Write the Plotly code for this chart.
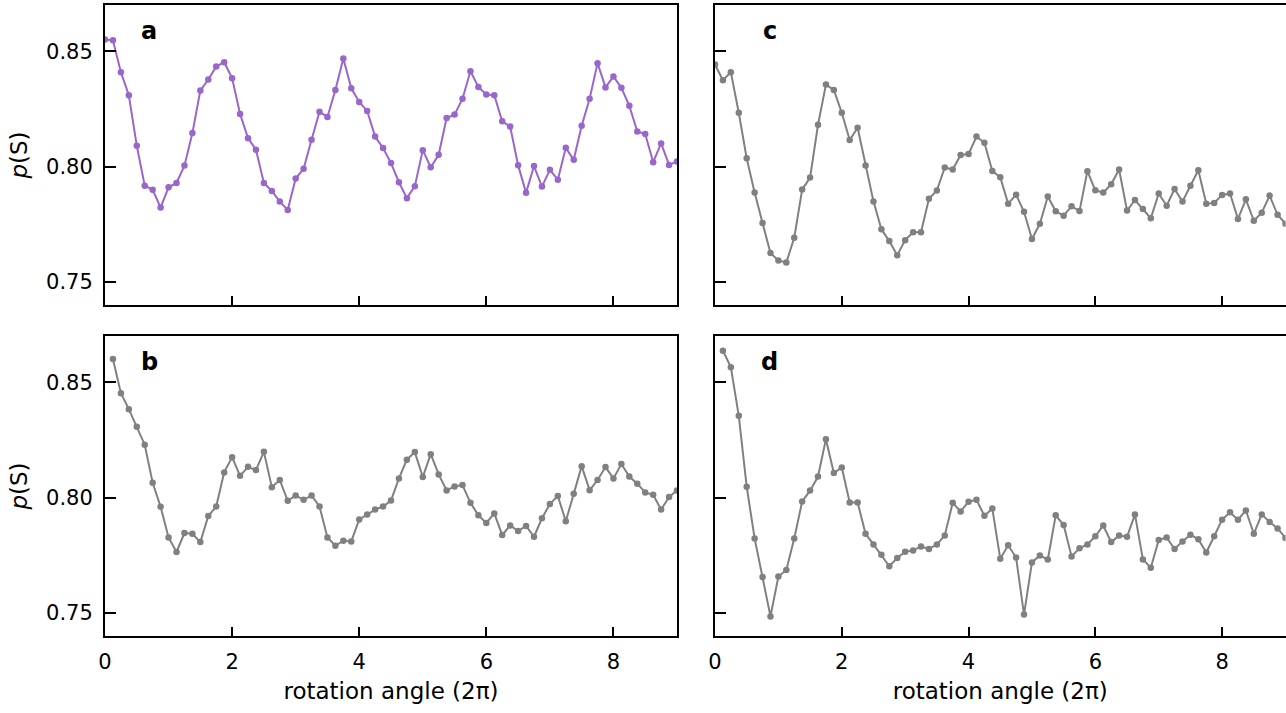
import numpy as np
import plotly.graph_objects as go

step = 0.125
x_a = [i * step for i in range(73)]          # 0 .. 9
x_b = [i * step for i in range(1, 73)]       # 0.125 .. 9
x_c = x_a
x_d = x_b

y_a = [0.8551, 0.8547, 0.8409, 0.8309, 0.8090, 0.7917, 0.7899, 0.7822, 0.7910, 0.7929,
       0.8004, 0.8145, 0.8329, 0.8377, 0.8433, 0.8452, 0.8383, 0.8228, 0.8123, 0.8073,
       0.7929, 0.7894, 0.7848, 0.7812, 0.7948,
       0.7990, 0.8116, 0.8237, 0.8215, 0.8332, 0.8468, 0.8339, 0.8280, 0.8241, 0.8130,
       0.8080, 0.8015, 0.7932, 0.7863, 0.7915, 0.8071, 0.7997, 0.8051, 0.8210, 0.8225,
       0.8294, 0.8413, 0.8345, 0.8312,
       0.8309, 0.8196, 0.8173, 0.8006, 0.7886, 0.8002, 0.7913, 0.7986, 0.7943, 0.8081,
       0.8029, 0.8177, 0.8294, 0.8448, 0.8343, 0.8390, 0.8341, 0.8263, 0.8152, 0.8141,
       0.8019, 0.8100, 0.8007, 0.8022]

y_c = [0.8442, 0.8374, 0.8409, 0.8233, 0.8036, 0.7887, 0.7755, 0.7625, 0.7593, 0.7584,
       0.7691, 0.7900, 0.7952, 0.8181, 0.8355, 0.8332, 0.8233, 0.8115, 0.8168, 0.8004,
       0.7849, 0.7728, 0.7677, 0.7616, 0.7681,
       0.7715, 0.7715, 0.7860, 0.7896, 0.7996, 0.7987, 0.8050, 0.8054, 0.8130, 0.8103,
       0.7981, 0.7954, 0.7839, 0.7878, 0.7804, 0.7686, 0.7752, 0.7870, 0.7806, 0.7787,
       0.7828, 0.7807, 0.7980, 0.7897,
       0.7887, 0.7923, 0.7987, 0.7809, 0.7855, 0.7816, 0.7776, 0.7883, 0.7830, 0.7903,
       0.7848, 0.7917, 0.7984, 0.7839, 0.7842, 0.7877, 0.7883, 0.7773, 0.7858, 0.7765,
       0.7800, 0.7874, 0.7791, 0.7752]

y_b = [0.8600, 0.8452, 0.8383, 0.8307, 0.8229, 0.8064, 0.7960, 0.7827, 0.7764, 0.7846,
       0.7843, 0.7807, 0.7920, 0.7961, 0.8109, 0.8175, 0.8094, 0.8133, 0.8119, 0.8198,
       0.8045, 0.8076, 0.7986, 0.8009,
       0.7990, 0.8009, 0.7961, 0.7827, 0.7791, 0.7813, 0.7810, 0.7905, 0.7926, 0.7948,
       0.7961, 0.7987, 0.8083, 0.8164, 0.8197, 0.8089, 0.8188, 0.8100, 0.8031, 0.8048,
       0.8054, 0.7977, 0.7923, 0.7890,
       0.7931, 0.7838, 0.7879, 0.7855, 0.7877, 0.7830, 0.7910, 0.7972, 0.8007, 0.7897,
       0.8016, 0.8136, 0.8032, 0.8076, 0.8132, 0.8083, 0.8145, 0.8091, 0.8060, 0.8022,
       0.8012, 0.7948, 0.8002, 0.8031]

y_d = [0.8636, 0.8565, 0.8354, 0.8047, 0.7823, 0.7656, 0.7485, 0.7658, 0.7686, 0.7822,
       0.7983, 0.8030, 0.8091, 0.8253, 0.8106, 0.8130, 0.7979, 0.7979, 0.7843, 0.7797,
       0.7752, 0.7702, 0.7738, 0.7765,
       0.7771, 0.7788, 0.7777, 0.7797, 0.7836, 0.7977, 0.7940, 0.7982, 0.7990, 0.7921,
       0.7952, 0.7735, 0.7793, 0.7740, 0.7493, 0.7719, 0.7749, 0.7731, 0.7923, 0.7881,
       0.7745, 0.7780, 0.7797, 0.7832,
       0.7879, 0.7807, 0.7835, 0.7830, 0.7927, 0.7732, 0.7696, 0.7816, 0.7827, 0.7777,
       0.7810, 0.7839, 0.7819, 0.7762, 0.7832, 0.7904, 0.7936, 0.7904, 0.7944, 0.7843,
       0.7927, 0.7894, 0.7866, 0.7825]

x_ticks = [0, 2, 4, 6, 8]
y_ticks = [0.75, 0.80, 0.85]
y_ticklabels = ["0.75", "0.80", "0.85"]
panel_labels = ["a", "b", "c", "d"]

PURPLE = "#9966cc"
GRAY = "#808080"
FONT = "DejaVu Sans"

W, H = 1286, 713
xl = [105 / W, 677 / W]
xr = [715 / W, 1285.5 / W]
yt = [(H - 305) / H, (H - 5) / H]
yb = [(H - 636) / H, (H - 336) / H]

fig = go.Figure()

panels = [
    (x_a, y_a, PURPLE, "x", "y"),
    (x_b, y_b, GRAY, "x2", "y2"),
    (x_c, y_c, GRAY, "x3", "y3"),
    (x_d, y_d, GRAY, "x4", "y4"),
]
for xs, ys, col, xa, ya in panels:
    fig.add_trace(go.Scatter(x=xs, y=ys, mode="lines+markers", xaxis=xa, yaxis=ya,
                             line=dict(color=col, width=2),
                             marker=dict(color=col, size=6.5), showlegend=False,
                             cliponaxis=True))

common_x = dict(range=[0, 9], tickvals=x_ticks, ticks="inside", ticklen=9, tickwidth=2,
                tickcolor="black", showline=True, linecolor="black", linewidth=2,
                mirror=True, showgrid=False, zeroline=False, ticklabelstandoff=6,
                automargin=False,
                tickfont=dict(family=FONT, size=21, color="black"))
common_y = dict(range=[0.74, 0.87], tickvals=y_ticks, ticktext=y_ticklabels,
                ticks="inside", ticklen=11, tickwidth=2, tickcolor="black",
                showline=True, linecolor="black", linewidth=2, mirror=True,
                showgrid=False, zeroline=False, ticklabelstandoff=6,
                automargin=False,
                tickfont=dict(family=FONT, size=21, color="black"))
xtitle = dict(text="rotation angle (2π)", font=dict(family=FONT, size=23, color="black"),
              standoff=10)
ytitle = dict(text="<i>p</i>(S)", font=dict(family=FONT, size=23, color="black"),
              standoff=12)

fig.update_layout(
    width=W, height=H, margin=dict(l=0, r=0, t=0, b=0, autoexpand=False),
    plot_bgcolor="white", paper_bgcolor="white",
    xaxis=dict(domain=xl, anchor="y", showticklabels=False, **common_x),
    yaxis=dict(domain=yt, anchor="x", title=ytitle, **common_y),
    xaxis2=dict(domain=xl, anchor="y2", title=xtitle, **common_x),
    yaxis2=dict(domain=yb, anchor="x2", title=ytitle, **common_y),
    xaxis3=dict(domain=xr, anchor="y3", showticklabels=False, **common_x),
    yaxis3=dict(domain=yt, anchor="x3", showticklabels=False, **common_y),
    xaxis4=dict(domain=xr, anchor="y4", title=xtitle, **common_x),
    yaxis4=dict(domain=yb, anchor="x4", showticklabels=False, **common_y),
)

label_pos = {"a": ("x", "y", 0.077), "b": ("x2", "y2", 0.077),
             "c": ("x3", "y3", 0.096), "d": ("x4", "y4", 0.096)}
for lab in panel_labels:
    xa, ya, xp = label_pos[lab]
    fig.add_annotation(text=f"<b>{lab}</b>", x=xp, y=0.915,
                       xref=f"{xa} domain", yref=f"{ya} domain",
                       showarrow=False, xanchor="center", yanchor="middle",
                       font=dict(family=FONT, size=24, color="black"))

fig.write_html("out.html", config={"displayModeBar": False},
               post_script="document.body.style.margin='0';document.body.style.overflow='hidden';")
